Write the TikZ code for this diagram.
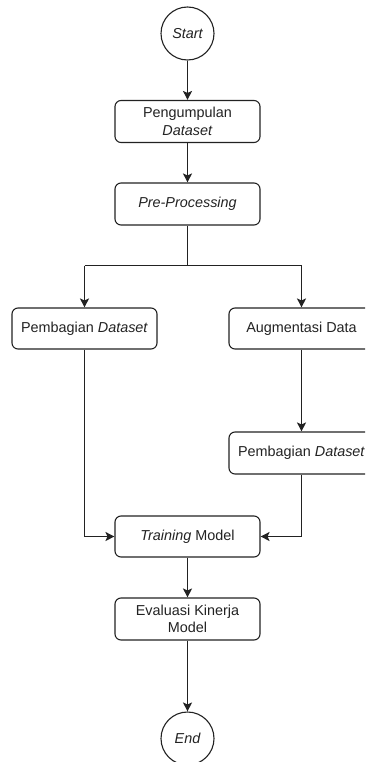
\documentclass[tikz,border=0pt]{standalone}
\usepackage{fontspec}
\setmainfont{Liberation Sans}
\usetikzlibrary{arrows.meta}
\definecolor{ln}{HTML}{222222}
\tikzset{
  box/.style={draw=ln, line width=1.1pt, rounded corners=6pt, minimum width=145pt, minimum height=42pt, inner sep=2pt, align=center, text=ln, font=\fontsize{14.4}{17.5}\selectfont},
  term/.style={draw=ln, line width=1.1pt, circle, minimum size=53pt, inner sep=0pt, text=ln, font=\fontsize{14.4}{17.5}\selectfont\itshape},
  conn/.style={draw=ln, line width=1.1pt, -{Stealth[length=9pt,width=9pt,inset=2pt]}},
  plain/.style={draw=ln, line width=1.1pt}
}
\begin{document}
\begin{tikzpicture}[x=1pt,y=1pt]
\clip (0,0) rectangle (365,-762);
\useasboundingbox (0,0) rectangle (365,-762);
\node[term] (start) at (187.5,-33.5) {Start};
\node[box] (pd) at (187.5,-121.5) {Pengumpulan\\\textit{Dataset}};
\node[box] (pp) at (187.5,-204) {\textit{Pre-Processing}};
\coordinate (sp) at (187.5,-265.5);
\coordinate (spl) at (84.5,-265.5);
\coordinate (spr) at (301.5,-265.5);
\node[box, minimum height=41pt] (lpd) at (84.5,-328.5) {Pembagian \textit{Dataset}};
\node[box, minimum height=41pt] (aug) at (301.5,-328.5) {Augmentasi Data};
\node[box] (rpd) at (301.5,-453) {Pembagian \textit{Dataset}};
\node[box, minimum height=41pt] (tm) at (187.5,-536.5) {\textit{Training} Model};
\node[box] (ev) at (187.5,-619) {Evaluasi Kinerja\\Model};
\node[term] (end) at (187.5,-738.5) {End};
\draw[conn] (start) -- (pd);
\draw[conn] (pd) -- (pp);
\draw[plain] (pp) -- (sp);
\draw[plain] (spl) -- (spr);
\draw[conn] (spl) -- (lpd);
\draw[conn] (spr) -- (aug);
\draw[conn] (aug) -- (rpd);
\draw[conn] (lpd) |- (tm);
\draw[conn] (rpd) |- (tm);
\draw[conn] (tm) -- (ev);
\draw[conn] (ev) -- (end);
\end{tikzpicture}
\end{document}
